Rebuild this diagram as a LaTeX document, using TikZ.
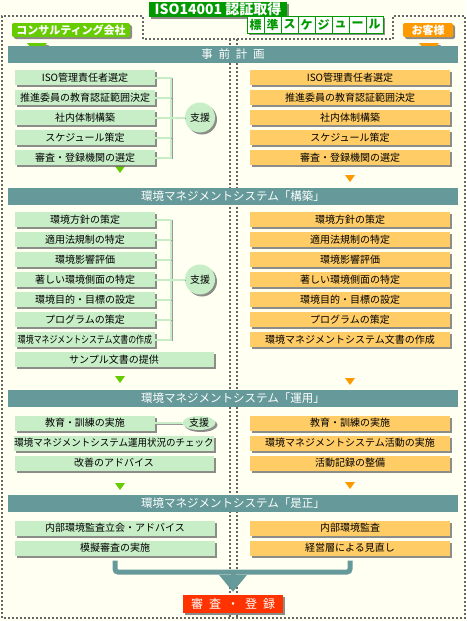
\documentclass[tikz,border=0pt]{standalone}
\usepackage{fontspec}
\setmainfont{Noto Sans CJK JP}
\usepackage{graphicx}
\usepackage{xcolor}
\usetikzlibrary{arrows.meta,calc,positioning,shadows,shapes.geometric}
\definecolor{bgcol}{HTML}{FFFFF2}
\definecolor{barcol}{HTML}{669999}
\definecolor{gboxcol}{HTML}{C8EEC8}
\definecolor{oboxcol}{HTML}{FFCC66}
\definecolor{lgreen}{HTML}{66CC00}
\definecolor{orng}{HTML}{FF9900}
\definecolor{dkgreen}{HTML}{009900}
\definecolor{redcol}{HTML}{FF3300}
\definecolor{dotcol}{HTML}{666666}
\tikzset{%
	shdw/.style     = {drop shadow={shadow xshift=2pt, shadow yshift=-2pt, fill=black!60, opacity=0.75}},
	gbox/.style     = {shdw, fill=gboxcol, minimum width=140pt, minimum height=15pt, inner sep=0pt, font=\fontsize{10}{12}\selectfont}, % consultant
	wgbox/.style    = {gbox, minimum width=199pt}, % wide consultant box
	obox/.style     = {shdw, fill=oboxcol, minimum width=200pt, minimum height=15pt, inner sep=0pt, font=\fontsize{10}{12}\selectfont}, % customer
	titlebar/.style = {fill=barcol, text=white, minimum width=450pt, minimum height=17pt, inner sep=0pt, font=\fontsize{11.5}{13}\selectfont},
	supp/.style     = {shdw, circle, fill=gboxcol, minimum size=30pt, inner sep=0pt, font=\fontsize{10}{12}\selectfont}, % support
	suppe/.style    = {shdw, ellipse, fill=gboxcol, minimum width=33pt, minimum height=14pt, inner sep=0pt, font=\fontsize{10}{12}\selectfont},
	tag/.style      = {shdw, rounded corners=2pt, text=white, minimum height=14pt, inner sep=0pt, font=\bfseries\fontsize{11}{13}\selectfont},
	cell/.style     = {shdw, draw=dkgreen, line width=1pt, fill=white, text=dkgreen, minimum size=17pt, inner sep=0pt, node distance=17pt, font=\bfseries\fontsize{12}{14}\selectfont},
	result/.style   = {shdw, fill=redcol, text=white, minimum width=100pt, minimum height=18pt, inner sep=0pt, font=\fontsize{12}{14}\selectfont},
	brk/.style      = {draw=gboxcol, line width=2pt, preaction={draw=black!40, transform canvas={shift={(1pt,-1pt)}}}},
	merge/.style    = {draw=barcol, line width=5pt, rounded corners=3pt},
	dotframe/.style = {draw=dotcol, line width=2pt, dash pattern=on 2pt off 2pt},
}

\begin{document}
\begin{tikzpicture}[x=1pt,y=-1pt,node distance=20pt,>={Triangle[width=27pt,length=17pt]}]
	\fill [bgcol] (0,0) rectangle (466,621);
	\useasboundingbox (0,0) rectangle (466,621);
	% panels
	\draw [dotframe] (143,39) -- (143,16) -- (2,16) -- (2,618) -- (465,618) -- (465,16) -- (393,16) -- (393,39) -- cycle;
	\draw [dotframe] (230,39) -- (230,618);
	\draw [dotframe] (237,39) -- (237,618);
	
	% heading
	\node [shdw, fill=dkgreen, text=white, minimum width=138pt, minimum height=15pt, inner sep=0pt, font=\bfseries\fontsize{14}{15}\selectfont] (ttl) at (218,9) {ISO14001 認証取得};
	\node [cell] (s1) at (255.5,24.5) {標};
	\node [cell] (s2) [right of=s1] {準};
	\node [cell] (s3) [right of=s2] {ス};
	\node [cell] (s4) [right of=s3] {ケ};
	\node [cell] (s5) [right of=s4] {ジ};
	\node [cell] (s6) [right of=s5] {ュ};
	\node [cell] (s7) [right of=s6] {ー};
	\node [cell] (s8) [right of=s7] {ル};
	\node [tag, fill=lgreen, minimum width=118pt] (cons) at (71,30) {コンサルティング会社};
	\node [tag, fill=orng, minimum width=50pt] (cust) at (428,30) {お客様};
	\fill [lgreen, shdw] (27,43) -- (47,43) -- (37,55) -- cycle;
	\fill [orng, shdw] (419,43) -- (439,43) -- (429,55) -- cycle;
	
	\node [titlebar] (p1) at (233,54.5) {事\enspace 前\enspace 計\enspace 画};
	\node [titlebar] (p2) at (233,196.5) {環境マネジメントシステム「構築」};
	\node [titlebar] (p3) at (233,398.5) {環境マネジメントシステム「運用」};
	\node [titlebar] (p4) at (233,503) {環境マネジメントシステム「是正」};
	\foreach \x/\y/\c in {120/166/lgreen, 350/175/orng, 120/376/lgreen, 350/378/orng, 120/483/lgreen, 350/482/orng}
		\fill [\c] (\x-5,\y) -- (\x+5,\y) -- (\x,\y+7) -- cycle;
	\coordinate (j1) at (171,0);
	
	% plan
	\node [gbox] (pl1) at (85,77.5) {ISO管理責任者選定};
	\node [gbox] (pl2) [below of=pl1] {推進委員の教育認証範囲決定};
	\node [gbox] (pl3) [below of=pl2] {社内体制構築};
	\node [gbox] (pl4) [below of=pl3] {スケジュール策定};
	\node [gbox] (pl5) [below of=pl4] {審査・登録機関の選定};
	\node [supp] (sp1) at (200,117.5) {支援};
	\node [obox] (pr1) at (350,77.5) {ISO管理責任者選定};
	\node [obox] (pr2) [below of=pr1] {推進委員の教育認証範囲決定};
	\node [obox] (pr3) [below of=pr2] {社内体制構築};
	\node [obox] (pr4) [below of=pr3] {スケジュール策定};
	\node [obox] (pr5) [below of=pr4] {審査・登録機関の選定};
	\draw [brk] (pl1.east) -| (pl5.east -| j1) -- (pl5.east);
	\draw [brk] (pl2.east) -- (pl2.east -| j1);
	\draw [brk] (pl3.east) -- (sp1);
	\draw [brk] (pl4.east) -- (pl4.east -| j1);
	
	% build
	\node [gbox] (kl1) at (85,219.5) {環境方針の策定};
	\node [gbox] (kl2) [below of=kl1] {適用法規制の特定};
	\node [gbox] (kl3) [below of=kl2] {環境影響評価};
	\node [gbox] (kl4) [below of=kl3] {著しい環境側面の特定};
	\node [gbox] (kl5) [below of=kl4] {環境目的・目標の設定};
	\node [gbox] (kl6) [below of=kl5] {プログラムの策定};
	\node [gbox] (kl7) [below of=kl6] {\scalebox{0.79}[1]{環境マネジメントシステム文書の作成}};
	\node [wgbox] (kl8) at (114,359.5) {サンプル文書の提供};
	\node [supp] (sp2) at (200,279.5) {支援};
	\node [obox] (kr1) at (350,219.5) {環境方針の策定};
	\node [obox] (kr2) [below of=kr1] {適用法規制の特定};
	\node [obox] (kr3) [below of=kr2] {環境影響評価};
	\node [obox] (kr4) [below of=kr3] {著しい環境側面の特定};
	\node [obox] (kr5) [below of=kr4] {環境目的・目標の設定};
	\node [obox] (kr6) [below of=kr5] {プログラムの策定};
	\node [obox] (kr7) [below of=kr6] {環境マネジメントシステム文書の作成};
	\draw [brk] (kl1.east) -| (kl7.east -| j1) -- (kl7.east);
	\draw [brk] (kl2.east) -- (kl2.east -| j1);
	\draw [brk] (kl3.east) -- (kl3.east -| j1);
	\draw [brk] (kl4.east) -- (sp2);
	\draw [brk] (kl5.east) -- (kl5.east -| j1);
	\draw [brk] (kl6.east) -- (kl6.east -| j1);
	
	% operate
	\node [gbox] (ul1) at (85,423) {教育・訓練の実施};
	\node [wgbox] (ul2) at (114,443) {\scalebox{0.95}[1]{環境マネジメントシステム運用状況のチェック}};
	\node [wgbox] (ul3) [below of=ul2] {改善のアドバイス};
	\node [suppe] (sp3) at (199,423) {支援};
	\node [obox] (ur1) at (350,423) {教育・訓練の実施};
	\node [obox] (ur2) [below of=ur1] {環境マネジメントシステム活動の実施};
	\node [obox] (ur3) [below of=ur2] {活動記録の整備};
	\draw [brk] (ul1.east) -- (sp3);
	
	% correct
	\node [wgbox, minimum width=200pt] (zl1) at (115,528) {内部環境監査立会・アドバイス};
	\node [wgbox, minimum width=200pt] (zl2) [below of=zl1] {模擬審査の実施};
	\node [obox] (zr1) at (350,528) {内部環境監査};
	\node [obox] (zr2) [below of=zr1] {経営層による見直し};
	\node [result] (res) at (233,604) {審\enspace 査\enspace ・\enspace 登\enspace 録};
	\coordinate (mg) at (233,572);
	\draw [merge] ([yshift=-5pt]zl2.south) |- (mg) -| ([yshift=-5pt]zr2.south);
	\draw [merge,->,shorten >=3pt] (mg) -- (res);
\end{tikzpicture}
\end{document}
